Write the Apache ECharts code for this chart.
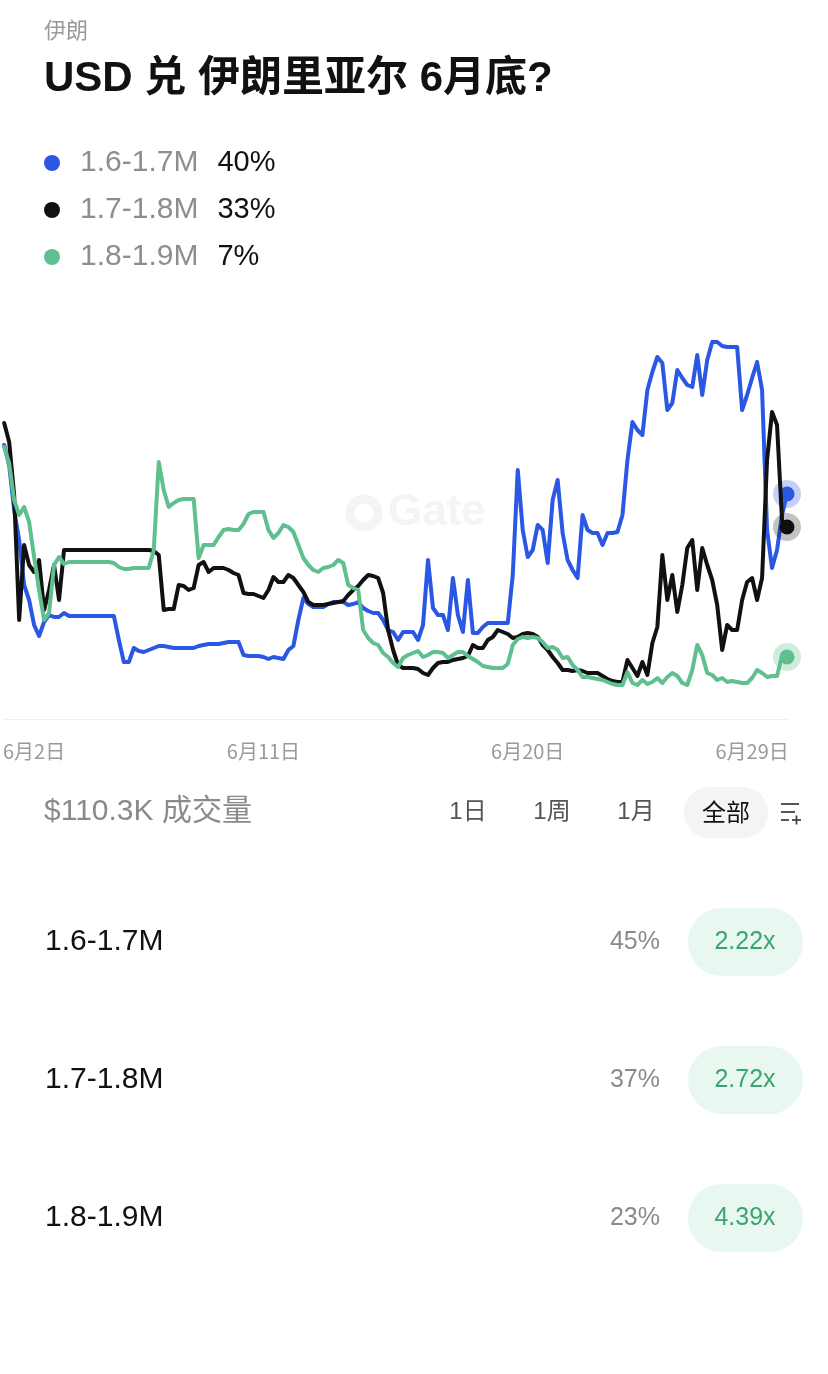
<!DOCTYPE html>
<html>
<head>
<meta charset="utf-8">
<script src="https://cdn.jsdelivr.net/npm/echarts@6/dist/echarts.min.js"></script>
<style>
html,body{margin:0;padding:0;background:#fff;}
#c{width:828px;height:1374px;}
</style>
</head>
<body>
<div id="c"></div>
<script>
// ---- data (probability %, one sample per time step) ----
const seriesNames = ['1.6-1.7M', '1.7-1.8M', '1.8-1.9M'];
const legendPct = ['40%', '33%', '7%'];
const rowPct = ['45%', '37%', '23%'];
const rowMult = ['2.22x', '2.72x', '4.39x'];
const tickLabels = ['6月2日', '6月11日', '6月20日', '6月29日'];
const tickIndex = [6, 52, 105, 150];

const blue = [
  49.8,45.8,36.8,30.8,21.8,18.8,13.8,11.6,14.4,15.8,15.4,15.4,16.2,
  15.6,15.6,15.6,15.6,15.6,15.6,15.6,15.6,15.6,15.6,
  10.8,6.4,6.4,9.2,8.6,8.4,8.8,9.2,9.6,9.6,9.4,9.2,9.2,9.2,9.2,9.2,9.6,9.8,10.0,10.0,10.0,10.2,10.4,10.4,10.4,
  7.8,7.6,7.6,7.6,7.4,7.0,7.4,7.2,7.0,8.8,
  9.6,14.8,19.2,18.0,17.4,17.4,17.4,18.0,18.4,18.4,
  18.4,17.8,18.0,18.4,17.2,16.6,16.2,16.2,14.8,12.8,
  12.4,10.8,12.4,12.4,12.4,10.8,13.8,26.8,17.2,15.8,
  15.8,12.8,23.2,15.8,12.4,22.8,12.2,12.2,13.4,14.2,
  14.2,14.2,14.2,14.2,23.8,44.8,32.8,27.4,28.8,33.8,
  32.8,26.2,38.8,42.8,32.2,26.8,24.8,23.2,35.8,32.8,
  32.2,32.2,29.8,32.2,32.2,32.4,35.8,46.8,54.4,52.8,
  51.8,60.8,64.4,67.4,66.2,56.8,58.2,64.8,63.2,61.8,
  61.4,67.8,59.8,66.8,70.4,70.4,69.6,69.4,69.4,69.4,
  56.8,59.8,63.2,66.4,60.8,32.8,25.2,28.8,35.8,40.0
];
const black = [
  54.2,50.4,39.8,14.8,29.8,25.8,24.4,26.8,16.8,20.8,25.8,18.8,28.8,
  28.8,28.8,28.8,28.8,28.8,28.8,28.8,28.8,28.8,28.8,28.8,28.8,28.8,28.8,28.8,28.8,28.8,
  28.6,27.8,16.8,17.0,17.0,21.8,21.6,20.8,21.2,25.8,
  26.4,24.4,25.2,25.2,25.2,24.8,24.2,23.8,20.2,20.0,
  20.0,19.6,19.2,20.8,23.4,22.4,22.4,23.8,23.2,21.8,
  20.4,18.4,17.8,17.8,17.8,18.0,18.2,18.4,18.6,19.8,
  20.8,21.6,22.8,23.8,23.6,23.2,20.2,12.8,8.8,5.8,
  5.2,5.2,5.2,5.0,4.2,3.8,5.2,6.2,6.4,6.4,
  6.8,7.0,7.2,7.6,9.8,9.2,9.2,10.8,11.4,12.8,
  12.4,12.0,11.2,11.4,12.0,12.2,12.0,11.4,9.8,8.8,
  7.4,6.2,4.8,4.8,4.6,4.8,4.6,4.2,4.2,4.2,
  3.6,3.0,2.6,2.4,2.4,6.8,5.2,3.6,6.4,3.8,
  10.2,13.4,27.8,18.8,23.8,16.4,21.8,29.2,30.8,20.8,
  29.2,25.8,22.8,17.8,8.8,13.8,12.8,12.8,18.8,22.4,
  23.2,18.8,23.2,46.8,56.4,53.8,34.8,33.4
];
const green = [
  49.4,46.2,38.8,35.8,37.4,34.4,27.4,20.8,14.8,16.2,25.8,27.4,26.0,
  26.4,26.4,26.4,26.4,26.4,26.4,26.4,26.4,26.4,
  26.2,25.4,25.0,25.0,25.2,25.2,25.2,25.2,28.8,46.4,
  40.8,37.4,38.2,38.8,39.0,39.0,39.0,27.2,29.8,29.8,
  29.8,31.4,32.8,33.0,32.8,32.8,34.0,36.0,36.4,36.4,
  36.4,32.8,31.2,32.2,33.8,33.4,32.4,29.8,27.2,25.8,
  24.8,24.4,25.2,25.4,25.8,26.8,26.2,21.8,21.2,20.8,
  12.8,11.2,10.2,9.8,8.2,7.4,6.2,5.4,7.2,7.8,
  8.2,8.6,7.4,7.8,8.4,8.4,8.2,7.2,7.8,8.4,
  8.4,7.6,7.0,6.4,5.6,5.4,5.2,5.2,5.2,6.0,
  9.8,11.0,11.4,11.2,11.4,11.2,10.4,9.2,9.4,8.8,
  7.2,7.4,5.8,4.8,3.4,3.4,3.2,3.0,2.8,2.4,
  2.0,1.8,1.8,4.4,2.2,1.8,2.8,2.0,2.4,3.2,
  2.2,3.4,4.2,3.6,2.2,1.8,4.8,9.8,7.8,4.2,
  3.8,2.8,3.2,2.4,2.6,2.4,2.2,2.2,3.2,4.8,
  4.2,3.4,3.6,3.6,7.6,7.4
];

const colors = ['#2a57e4', '#111111', '#5fbf8e'];
const halos = ['rgba(42,87,228,0.28)', 'rgba(17,17,17,0.25)', 'rgba(95,191,142,0.3)'];
const FONT = '"Liberation Sans", "Noto Sans CJK SC", sans-serif';
const CJK = '"Noto Sans CJK SC", "Liberation Sans", sans-serif';

const n = Math.max(blue.length, black.length, green.length);
const categories = Array.from({length: n}, (_, i) => i);

function mkSeries(name, data, idx) {
  const d = data.map((v, i) => i === data.length - 1
    ? {value: v, symbol: 'circle', symbolSize: 15,
       itemStyle: {color: colors[idx], borderColor: halos[idx], borderWidth: 13}}
    : v);
  return {
    name: name, type: 'line', data: d, symbol: 'none', showSymbol: true,
    lineStyle: {color: colors[idx], width: 4, join: 'round', cap: 'round'},
    itemStyle: {color: colors[idx]},
    emphasis: {disabled: true}, z: 2 + idx
  };
}

const chart = echarts.init(document.getElementById('c'), null, {renderer: 'canvas'});

const graphics = [
  // watermark
  {type: 'circle', z: 0, shape: {cx: 364, cy: 513, r: 14}, style: {fill: 'none', stroke: '#f4f4f4', lineWidth: 9}},
  {type: 'text', z: 0, style: {text: 'Gate', x: 388, y: 513, font: 'bold 44px ' + FONT, fill: '#f4f4f4', textVerticalAlign: 'middle'}},
  // header
  {type: 'text', style: {text: '伊朗', x: 44, y: 30, font: '22px ' + CJK, fill: '#9a9a9a', textVerticalAlign: 'middle'}},
  {type: 'text', style: {text: 'USD 兑 伊朗里亚尔 6月底?', x: 44, y: 79, font: 'bold 42px ' + FONT, fill: '#111', textVerticalAlign: 'middle'}},
  // volume + tabs
  {type: 'text', style: {text: '$110.3K 成交量', x: 44, y: 812, font: '30px ' + FONT, fill: '#8a8a8a', textVerticalAlign: 'middle'}},
  {type: 'text', style: {text: '1日', x: 468, y: 812, font: '24px ' + FONT, fill: '#555', textAlign: 'center', textVerticalAlign: 'middle'}},
  {type: 'text', style: {text: '1周', x: 552, y: 812, font: '24px ' + FONT, fill: '#555', textAlign: 'center', textVerticalAlign: 'middle'}},
  {type: 'text', style: {text: '1月', x: 636, y: 812, font: '24px ' + FONT, fill: '#555', textAlign: 'center', textVerticalAlign: 'middle'}},
  {type: 'rect', shape: {x: 684, y: 787, width: 84, height: 51, r: 25}, style: {fill: '#f4f4f4'}},
  {type: 'text', style: {text: '全部', x: 726, y: 812, font: '24px ' + CJK, fill: '#111', textAlign: 'center', textVerticalAlign: 'middle'}},
  {type: 'line', shape: {x1: 781, y1: 804, x2: 799, y2: 804}, style: {stroke: '#444', lineWidth: 1.8}},
  {type: 'line', shape: {x1: 781, y1: 812, x2: 795, y2: 812}, style: {stroke: '#444', lineWidth: 1.8}},
  {type: 'line', shape: {x1: 781, y1: 820, x2: 789, y2: 820}, style: {stroke: '#444', lineWidth: 1.8}},
  {type: 'line', shape: {x1: 792, y1: 820, x2: 801, y2: 820}, style: {stroke: '#444', lineWidth: 1.8}},
  {type: 'line', shape: {x1: 796.5, y1: 815.5, x2: 796.5, y2: 824.5}, style: {stroke: '#444', lineWidth: 1.8}}
];
const rowY = [942, 1080, 1218];
seriesNames.forEach((nm, i) => {
  const y = rowY[i];
  graphics.push({type: 'text', style: {text: nm, x: 45, y: y, font: '30px ' + FONT, fill: '#111', textVerticalAlign: 'middle'}});
  graphics.push({type: 'text', style: {text: rowPct[i], x: 660, y: y, font: '25px ' + FONT, fill: '#8a8a8a', textAlign: 'right', textVerticalAlign: 'middle'}});
  graphics.push({type: 'rect', shape: {x: 688, y: y - 34, width: 115, height: 68, r: 34}, style: {fill: '#e8f7ef'}});
  graphics.push({type: 'text', style: {text: rowMult[i], x: 745, y: y, font: '25px ' + FONT, fill: '#3aa56f', textAlign: 'center', textVerticalAlign: 'middle'}});
});

chart.setOption({
  animation: false,
  backgroundColor: '#ffffff',
  legend: {
    data: seriesNames, orient: 'vertical', left: 39, top: 143,
    icon: 'circle', itemWidth: 16, itemHeight: 16, itemGap: 17,
    selectedMode: false,
    formatter: function (name) {
      const i = seriesNames.indexOf(name);
      return '{n|' + name + '}{p|' + legendPct[i] + '}';
    },
    textStyle: {
      rich: {
        n: {fontSize: 30, color: '#8e8e8e', fontFamily: FONT, padding: [0, 0, 0, 15], lineHeight: 30},
        p: {fontSize: 29, color: '#111', fontFamily: FONT, padding: [0, 0, 0, 19], lineHeight: 30}
      }
    }
  },
  grid: {left: 0, right: 41, top: 334, bottom: 655, containLabel: false},
  xAxis: {
    type: 'category', data: categories, boundaryGap: false,
    axisLine: {show: true, onZero: false, lineStyle: {color: '#eeeeee', width: 1}},
    axisTick: {show: false},
    splitLine: {show: false},
    axisLabel: {
      interval: 0, margin: 22, fontSize: 20, color: '#9a9a9a', fontFamily: CJK,
      formatter: function (v, i) {
        const k = tickIndex.indexOf(i);
        return k >= 0 ? tickLabels[k] : '';
      }
    }
  },
  yAxis: {type: 'value', min: -5, max: 72, show: false, splitLine: {show: false}},
  series: [
    mkSeries(seriesNames[0], blue, 0),
    mkSeries(seriesNames[1], black, 1),
    mkSeries(seriesNames[2], green, 2)
  ],
  graphic: {elements: graphics}
});
</script>
</body>
</html>
